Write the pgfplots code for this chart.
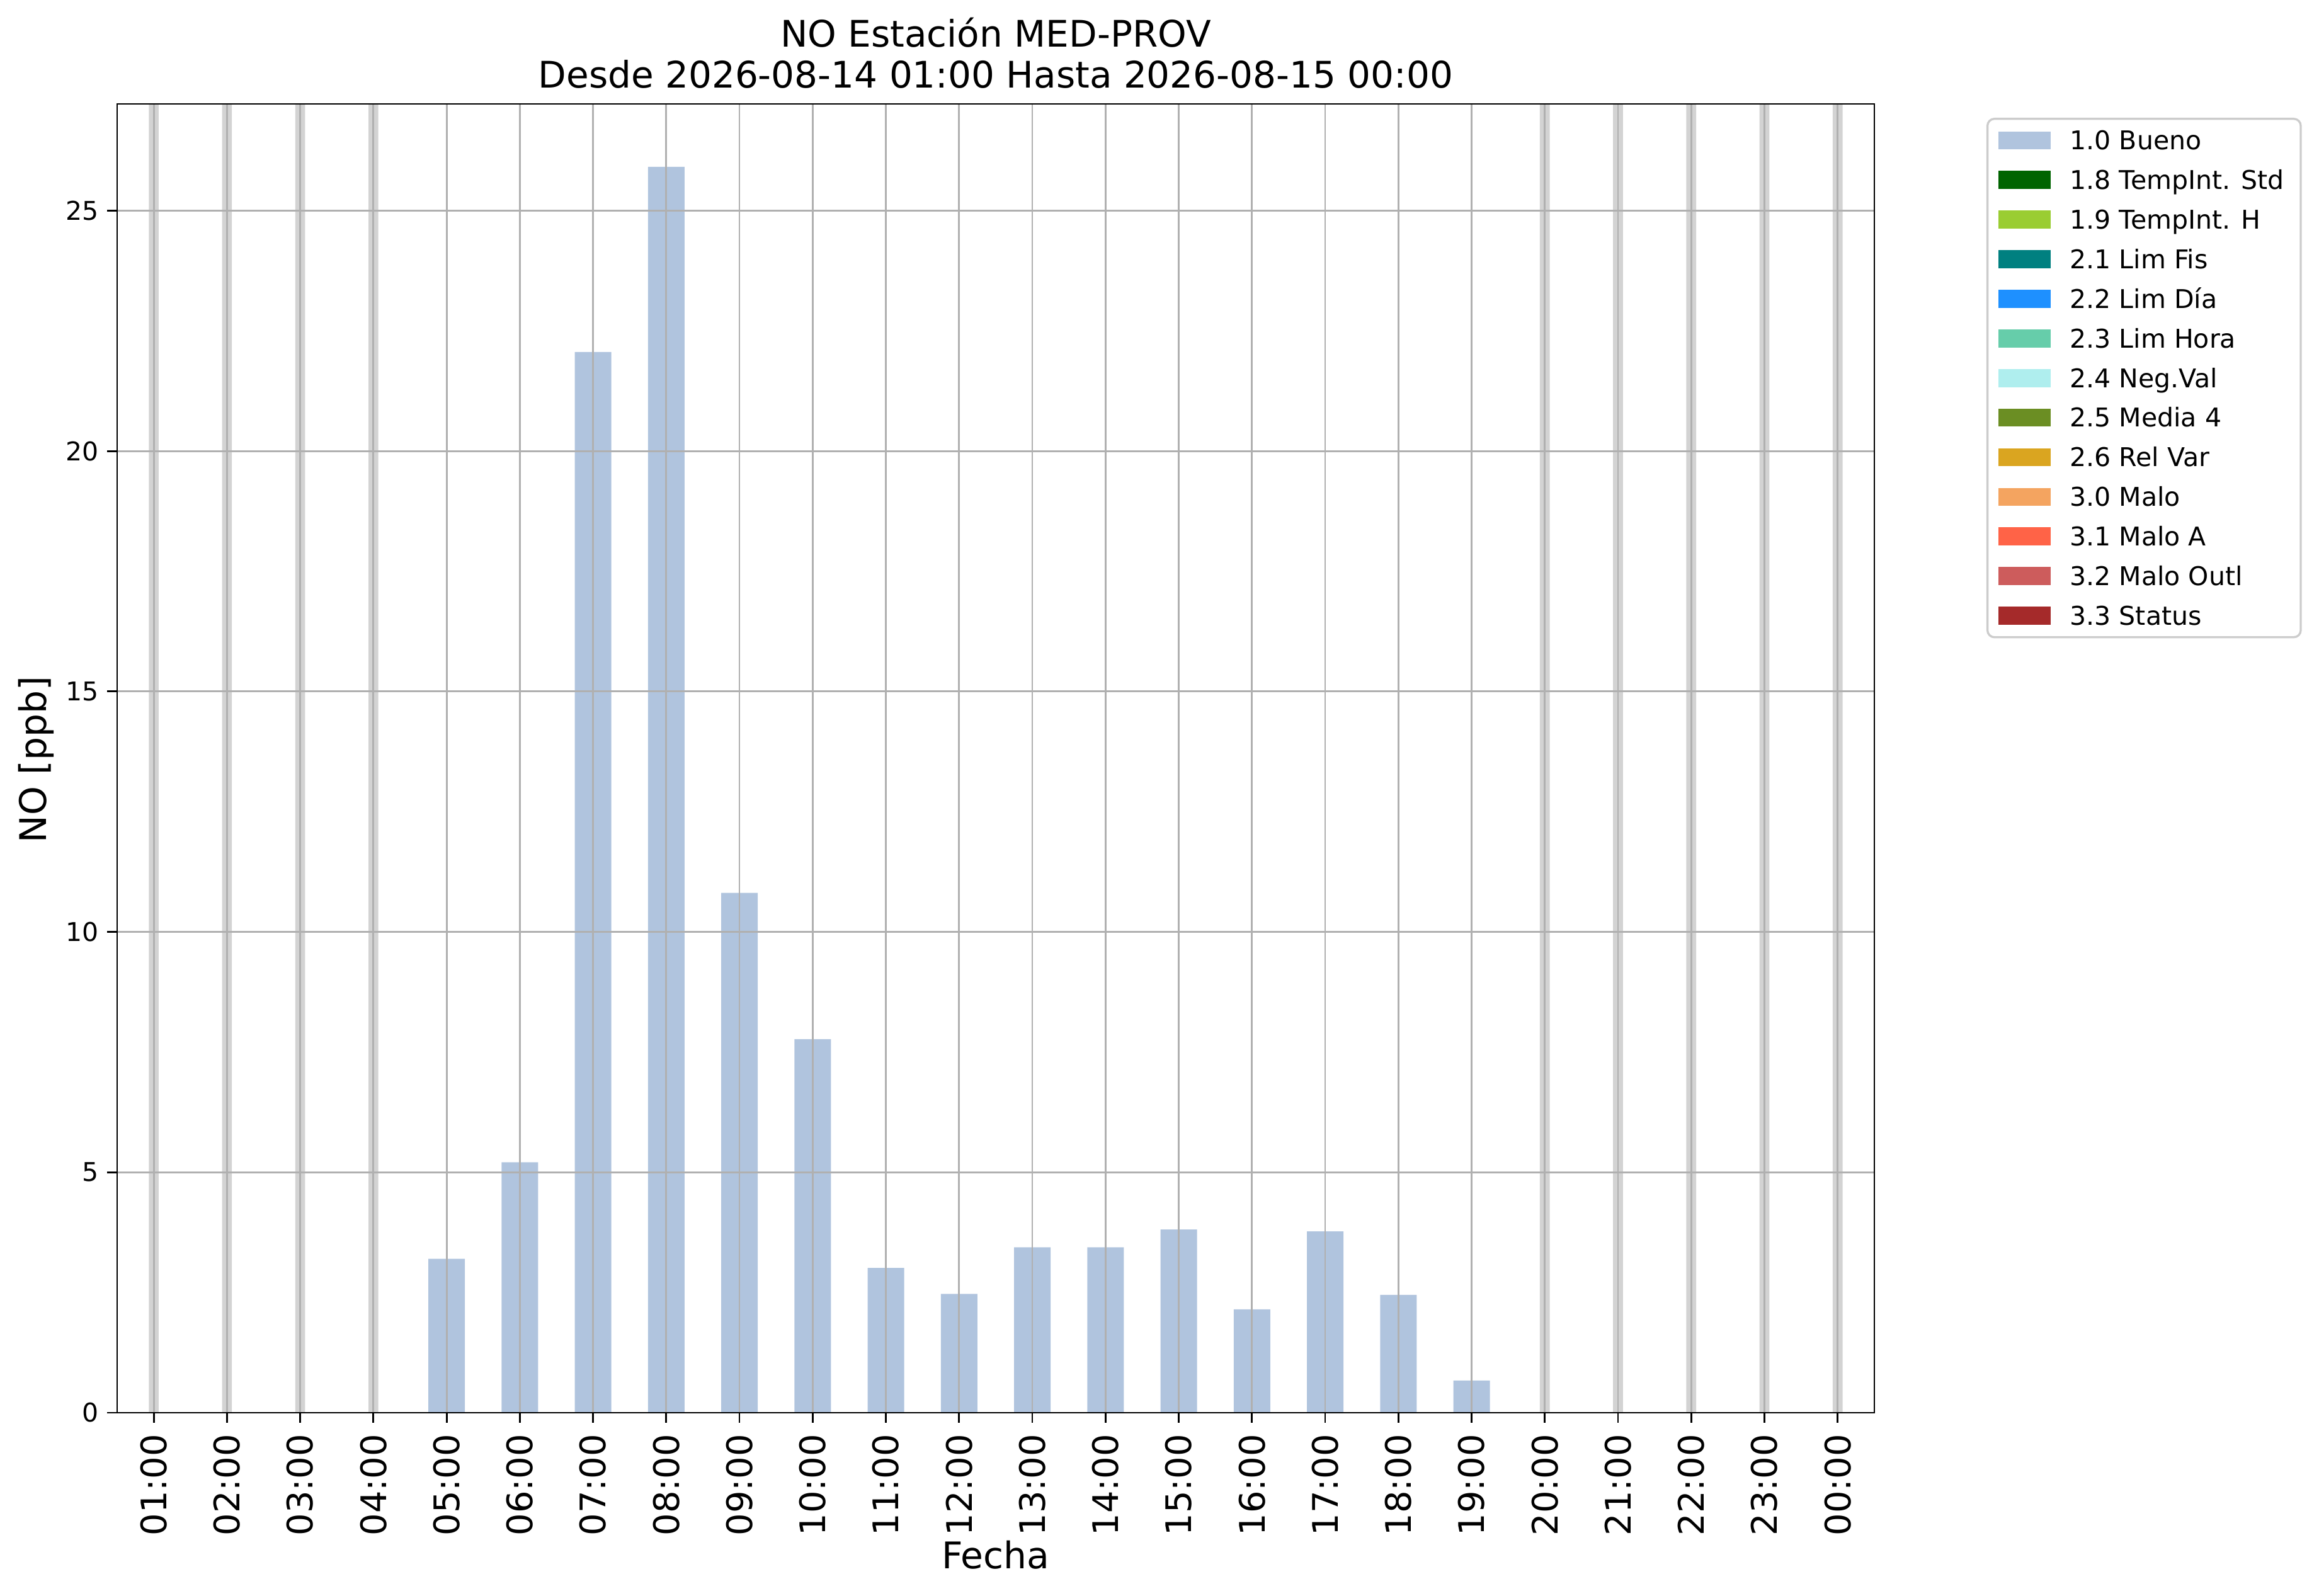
\documentclass[border=0pt]{standalone}
\usepackage{fontspec}
\setmainfont{DejaVu Sans}
\usepackage{pgfplots}
\pgfplotsset{compat=1.18}
\definecolor{gridgray}{HTML}{B0B0B0}
\definecolor{spangray}{HTML}{D3D3D3}
\definecolor{legframe}{HTML}{CCCCCC}
\definecolor{c10}{HTML}{B0C4DE}
\definecolor{c18}{HTML}{006400}
\definecolor{c19}{HTML}{9ACD32}
\definecolor{c21}{HTML}{008080}
\definecolor{c22}{HTML}{1E90FF}
\definecolor{c23}{HTML}{66CDAA}
\definecolor{c24}{HTML}{AFEEEE}
\definecolor{c25}{HTML}{6B8E23}
\definecolor{c26}{HTML}{DAA520}
\definecolor{c30}{HTML}{F4A460}
\definecolor{c31}{HTML}{FF6347}
\definecolor{c32}{HTML}{CD5C5C}
\definecolor{c33}{HTML}{A52A2A}
\pgfplotsset{
  patchlegend/.style={legend image code/.code={%
      \fill[##1, sharp corners, draw=none] (0pt,-5.15pt) rectangle (29.9pt,5.15pt);
      \path[draw=none, fill=none] (41.1pt,0pt);}},
}
\begin{document}
\begin{tikzpicture}
\begin{axis}[
  at={(0pt,0pt)}, anchor=south west,
  scale only axis, width=1004.4pt, height=748.08pt,
  xmin=-0.5, xmax=23.5, ymin=0, ymax=27.22,
  xtick={0,...,23},
  xticklabels={01:00,02:00,03:00,04:00,05:00,06:00,07:00,08:00,09:00,10:00,11:00,12:00,13:00,14:00,15:00,16:00,17:00,18:00,19:00,20:00,21:00,22:00,23:00,00:00},
  ytick={0,5,10,15,20,25},
  /pgf/number format/assume math mode=true,
  grid=major,
  major grid style={line width=1pt, color=gridgray},
  axis on top,
  axis line style={line width=1pt, black},
  tick align=outside,
  xtick pos=bottom, ytick pos=left,
  major tick length=5.6pt,
  tick style={line width=1pt, black},
  xticklabel style={rotate=90, anchor=east, inner sep=0pt, font=\fontsize{20.1pt}{24pt}\selectfont},
  yticklabel style={anchor=east, inner sep=0pt, font=\fontsize{14.76pt}{17pt}\selectfont},
  xticklabel shift=6.5pt,
  yticklabel shift=4.8pt,
  legend style={at={(rel axis cs:1.0638,0.98941)}, anchor=north west,
    draw=legframe, line width=1.2pt, rounded corners=4pt, fill=white,
    inner xsep=6.1pt, inner ysep=1pt, row sep=0pt, column sep=0pt,
    font=\fontsize{14.76pt}{17pt}\selectfont,
    nodes={inner sep=0pt, text height=16.68pt, text depth=5.96pt, anchor=west}},
  legend cell align=left,
]
\addplot[ybar, bar width=0.135, bar shift=0pt, fill=spangray, draw=none, forget plot]
  coordinates {(0,27.22) (1,27.22) (2,27.22) (3,27.22) (19,27.22) (20,27.22) (21,27.22) (22,27.22) (23,27.22)};
\addplot[ybar, bar width=0.5, bar shift=0pt, fill=c10, draw=none, forget plot]
  coordinates {(4,3.20) (5,5.21) (6,22.06) (7,25.91) (8,10.81) (9,7.77) (10,3.01) (11,2.47) (12,3.44) (13,3.44) (14,3.81) (15,2.15) (16,3.77) (17,2.45) (18,0.67)};
\addlegendimage{patchlegend, fill=c10}\addlegendentry{1.0 Bueno}
\addlegendimage{patchlegend, fill=c18}\addlegendentry{1.8 TempInt. Std\hspace*{3.3pt}}
\addlegendimage{patchlegend, fill=c19}\addlegendentry{1.9 TempInt. H}
\addlegendimage{patchlegend, fill=c21}\addlegendentry{2.1 Lim Fis}
\addlegendimage{patchlegend, fill=c22}\addlegendentry{2.2 Lim Día}
\addlegendimage{patchlegend, fill=c23}\addlegendentry{2.3 Lim Hora}
\addlegendimage{patchlegend, fill=c24}\addlegendentry{2.4 Neg.Val}
\addlegendimage{patchlegend, fill=c25}\addlegendentry{2.5 Media 4}
\addlegendimage{patchlegend, fill=c26}\addlegendentry{2.6 Rel Var}
\addlegendimage{patchlegend, fill=c30}\addlegendentry{3.0 Malo}
\addlegendimage{patchlegend, fill=c31}\addlegendentry{3.1 Malo A}
\addlegendimage{patchlegend, fill=c32}\addlegendentry{3.2 Malo Outl}
\addlegendimage{patchlegend, fill=c33}\addlegendentry{3.3 Status}
\end{axis}
\node[anchor=base, inner sep=0pt, font=\fontsize{20.9pt}{25pt}\selectfont] at (502.2pt,780.48pt) {NO Estación MED-PROV};
\node[anchor=base, inner sep=0pt, font=\fontsize{20.9pt}{25pt}\selectfont] at (502.2pt,757.08pt) {Desde 2026-08-14 01:00 Hasta 2026-08-15 00:00};
\node[anchor=base, inner sep=0pt, font=\fontsize{21pt}{25pt}\selectfont] at (502.2pt,-89.28pt) {Fecha};
\node[anchor=base, rotate=90, inner sep=0pt, font=\fontsize{21pt}{25pt}\selectfont] at (-40.32pt,373.3pt) {NO [ppb]};
\pgfresetboundingbox
\path[use as bounding box] (-66.96pt,-104.76pt) rectangle (1258.56pt,807.48pt);
\end{tikzpicture}
\end{document}
